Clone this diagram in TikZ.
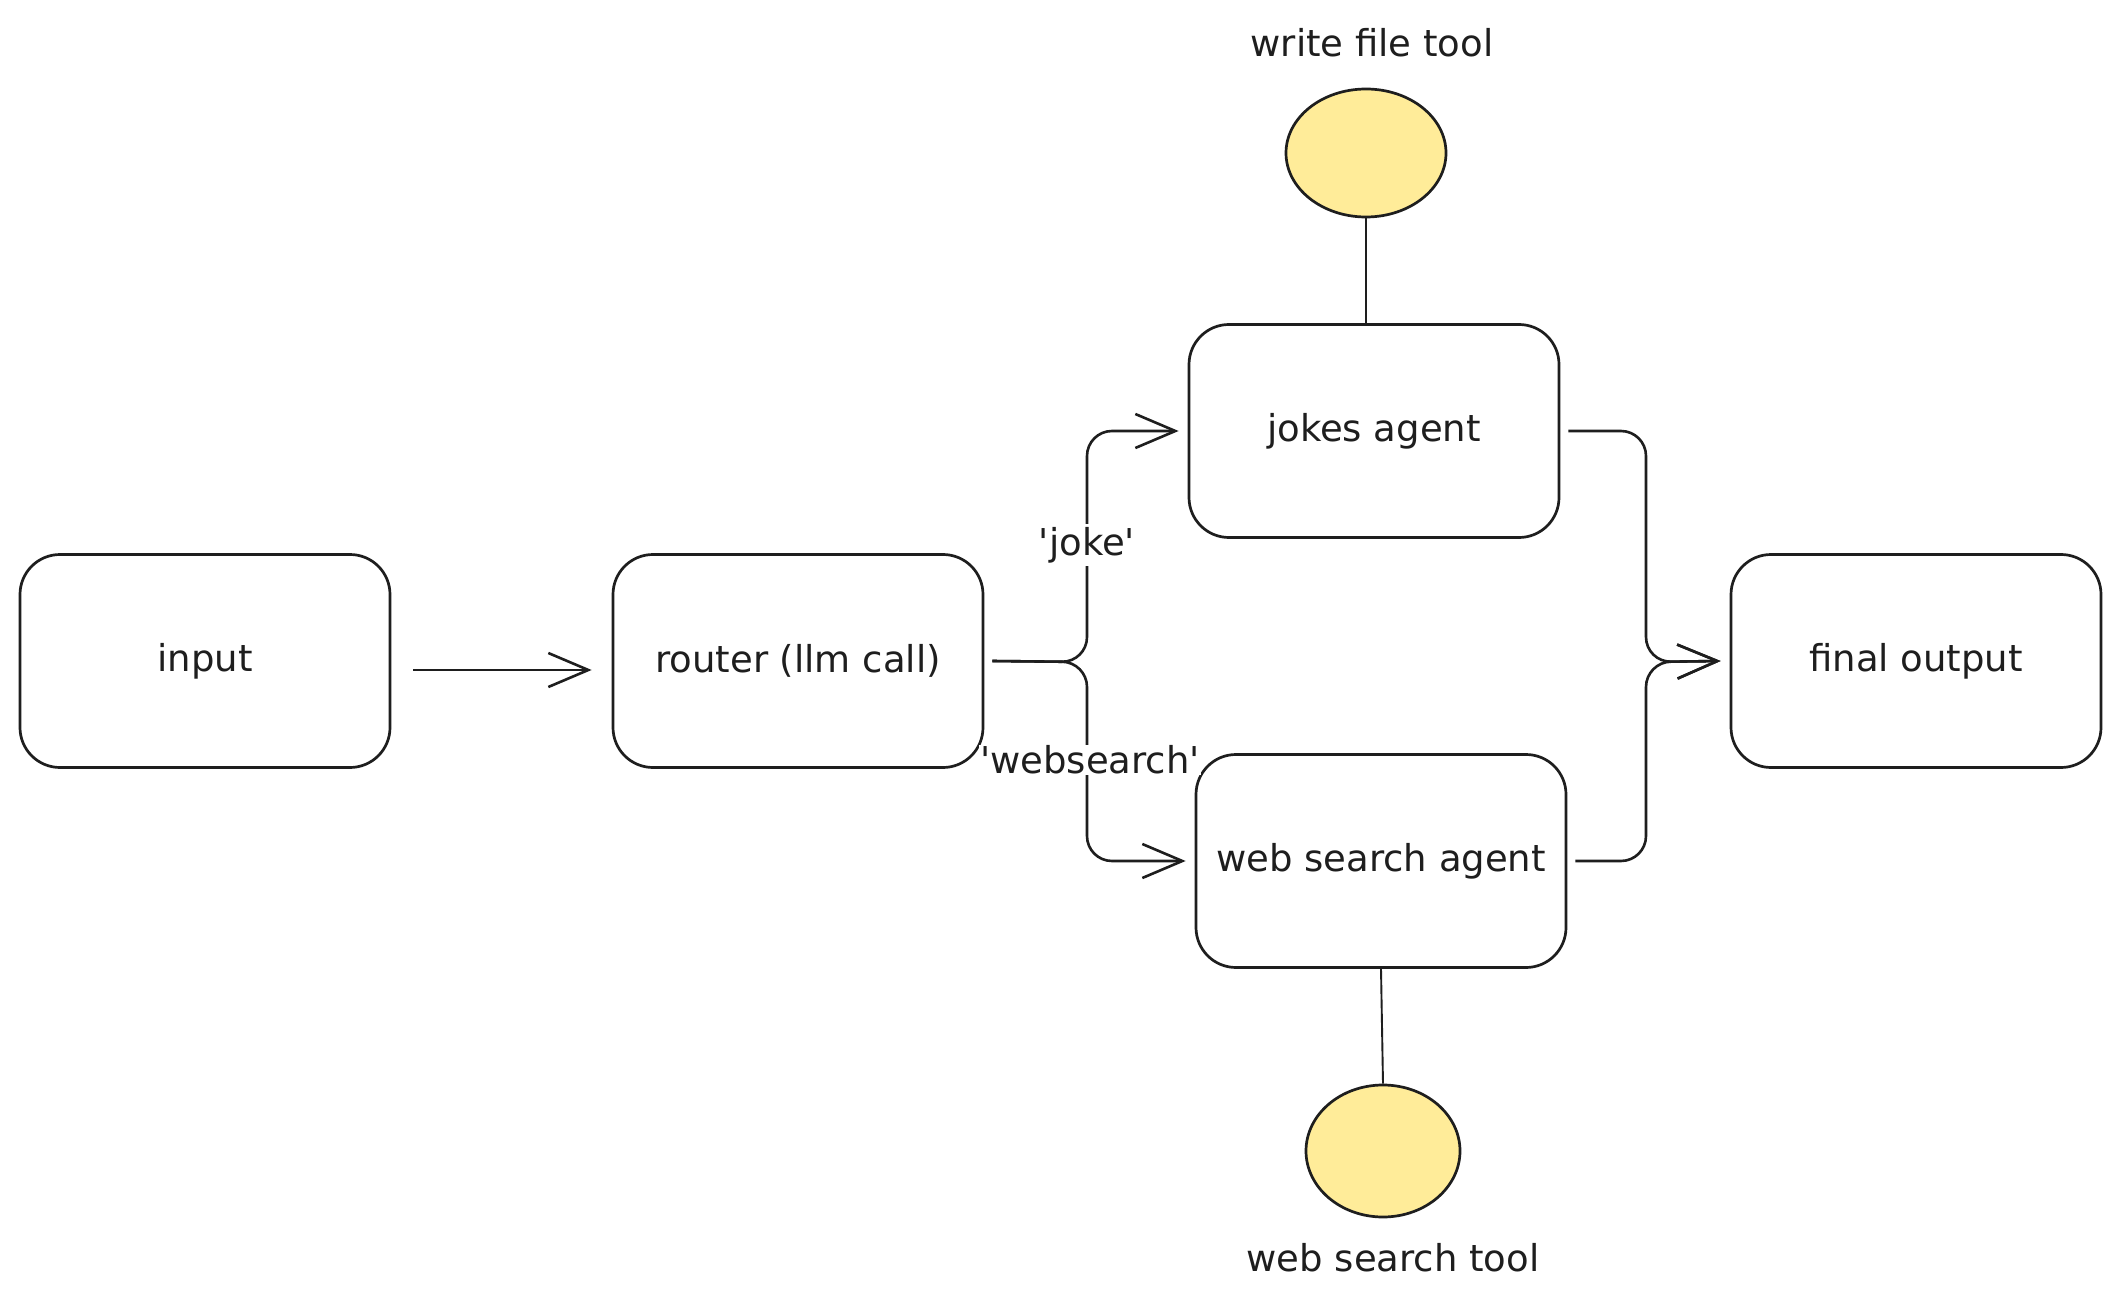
\documentclass[tikz,border=0pt]{standalone}
\usepackage{fontspec}
\setmainfont{DejaVu Sans}
\usetikzlibrary{arrows.meta,shapes.geometric}
\definecolor{ink}{HTML}{1E1E1E}
\definecolor{toolfill}{HTML}{FFEC99}
\begin{document}
\begin{tikzpicture}[x=1pt,y=-1pt,
  box/.style={draw=ink, line width=2.7pt, rounded corners=40pt, minimum width=370pt, minimum height=213pt, inner sep=0pt, font=\fontsize{37}{44}\selectfont, text=ink},
  tool/.style={ellipse, draw=ink, line width=2.7pt, fill=toolfill, inner sep=0pt},
  lbl/.style={font=\fontsize{37}{44}\selectfont, text=ink, inner sep=2pt},
  edgelbl/.style={font=\fontsize{37}{44}\selectfont, text=ink, fill=white, inner sep=3pt},
  arr/.style={draw=ink, line width=2.6pt, rounded corners=25pt, -{Straight Barb[length=40pt,width=34pt,line width=2.6pt]}},
  link/.style={draw=ink, line width=1.9pt}
]
\useasboundingbox[fill=white] (0,0) rectangle (2121,1305);

\node[box] (input)  at (205,661)  {input};
\node[box] (router) at (798,661)  {router (llm call)};
\node[box] (jokes)  at (1374,431) {jokes agent};
\node[box] (web)    at (1381,861) {web search agent};
\node[box] (final)  at (1916,661) {final output};

\node[tool, minimum width=160pt, minimum height=128pt] (wft) at (1366,153) {};
\node[tool, minimum width=154pt, minimum height=132pt] (wst) at (1383,1151) {};
\node[lbl] (wftl) at (1372,43) {write file tool};
\node[lbl] (wstl) at (1393,1258) {web search tool};

\coordinate (split) at (1087,662);
\coordinate (merge) at (1646,662);

\draw[arr] ([xshift=22pt,yshift=-9pt]input.east) -- ([xshift=-20pt,yshift=-9pt]router.west);
\draw[arr] ([xshift=8pt]router.east) -- (split) |- ([xshift=-9pt]jokes.west);
\draw[arr] ([xshift=8pt]router.east) -- (split) |- ([xshift=-9pt]web.west);
\draw[arr] ([xshift=8pt]jokes.east) -| (merge) -- ([xshift=-9pt]final.west);
\draw[arr] ([xshift=8pt]web.east) -| (merge) -- ([xshift=-9pt]final.west);

\draw[link] (wft.south) -- (wft.south |- jokes.north);
\draw[link] (web.south) -- (wst.north);

\node[edgelbl] (jl) at (1087,545) {\textquotesingle joke\textquotesingle};
\node[edgelbl, inner sep=1pt] (wl) at (1090,760) {\textquotesingle websearch\textquotesingle};
\end{tikzpicture}
\end{document}
